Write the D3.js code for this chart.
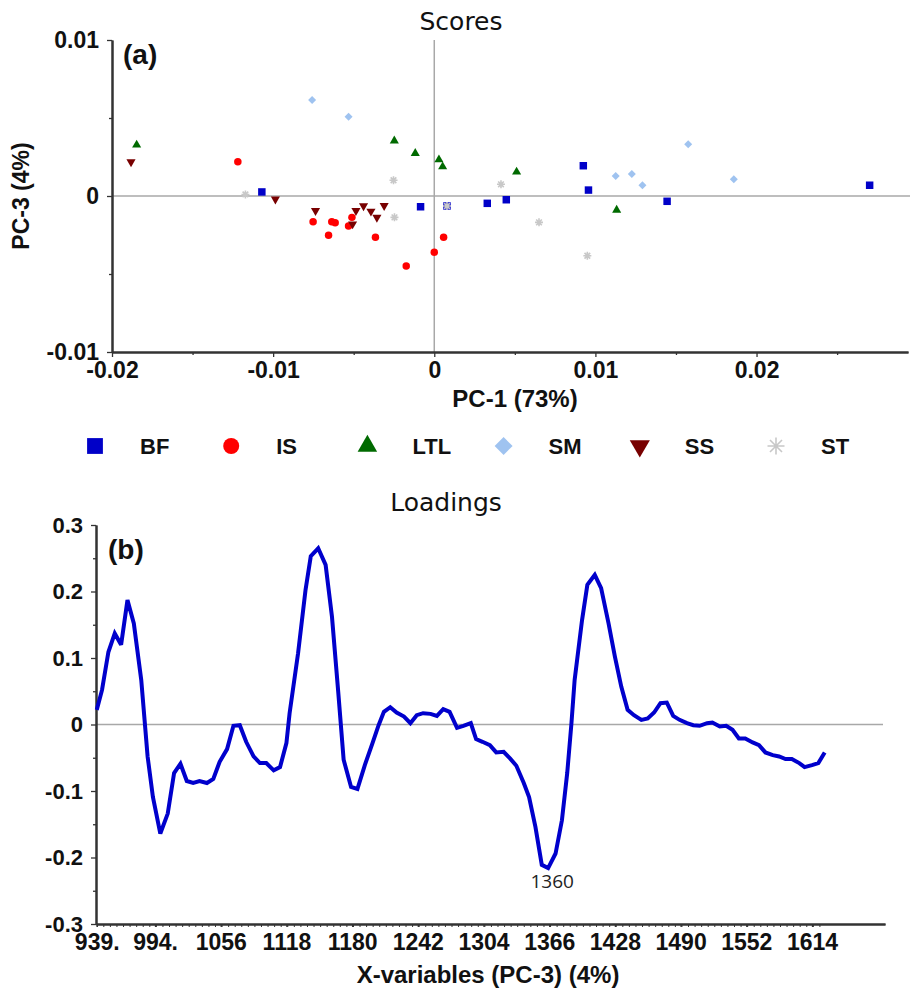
<!DOCTYPE html>
<html>
<head>
<meta charset="utf-8">
<script src="https://cdn.jsdelivr.net/npm/d3@7"></script>
<style>
body{margin:0;background:#fff;}
svg{display:block;}
</style>
</head>
<body>
<div id="chart"></div>
<script>
// scores: [PC-1, PC-3] for each group
var bfScores = [[-0.0107,0.00026],[-0.00085,-0.00069],[0.00079,-0.00064],[0.00329,-0.00047],[0.00447,-0.00024],
                [0.00925,0.00194],[0.00957,0.00038],[0.01445,-0.00034],[0.02702,0.00069]];
var isScores = [[-0.01219,0.0022],[-0.00752,-0.00165],[-0.00636,-0.00165],[-0.00615,-0.00171],[-0.00656,-0.00252],
                [-0.00511,-0.00137],[-0.00532,-0.00192],[-0.00365,-0.00265],[-0.00174,-0.00449],[0,-0.00361],[0.00058,-0.00265]];
var ltlScores = [[-0.01847,0.00327],[-0.00248,0.00354],[-0.00118,0.00274],[0.00029,0.00233],[0.00052,0.00188],
                 [0.00511,0.00154],[0.01132,-0.0009]];
var smScores = [[-0.00758,0.00615],[-0.00532,0.00508],[0.01126,0.00128],[0.01226,0.00141],[0.01292,0.00069],
                [0.01576,0.00331],[0.01859,0.00107]];
var ssScores = [[-0.01882,0.00218],[-0.00986,-0.0002],[-0.00737,-0.00094],[-0.00507,-0.0018],[-0.00486,-0.00094],
                [-0.00439,-0.00064],[-0.00393,-0.00098],[-0.00356,-0.00137],[-0.00311,-0.00062]];
var stScores = [[-0.01172,0.0001],[-0.00253,0.00101],[-0.00247,-0.00137],[0.00079,-0.00064],[0.00414,0.00075],
                [0.0065,-0.00169],[0.0095,-0.00383]];

var groupNames = ["BF","IS","LTL","SM","SS","ST"];
var groupColors = ["#0000c8","#ff0000","#006a00","#9fc3f0","#780000","#c8c8c8"];

var scoreXTicks = [-0.02,-0.01,0,0.01,0.02];
var scoreXMinor = [-0.015,-0.005,0.005,0.015,0.025];
var scoreYTicks = [-0.01,0,0.01];
var scoreYMinor = [-0.005,0.005];

// loadings PC-3
var wavenumbers = [939,944,950,956,962,968,974,981,987,992,999,1006,1012,1018,1024,1030,1036,1043,1049,1055,
                   1062,1068,1074,1080,1087,1093,1099,1106,1112,1118,1121,1129,1136,1141,1148,1155,1161,1167,1172,1179,
                   1185,1192,1199,1205,1210,1216,1222,1229,1235,1241,1247,1254,1260,1266,1272,1279,1285,1292,1297,1303,
                   1310,1316,1323,1329,1335,1342,1347,1353,1359,1365,1372,1378,1383,1387,1390,1397,1402,1409,1415,1422,
                   1428,1434,1440,1446,1453,1459,1465,1471,1477,1483,1489,1496,1502,1508,1515,1520,1527,1533,1539,1545,
                   1551,1558,1564,1570,1577,1583,1589,1595,1602,1607,1614,1620,1626];
var loadings = [0.022,0.052,0.109,0.137,0.120,0.187,0.152,0.067,-0.048,-0.109,-0.164,-0.134,-0.073,-0.059,-0.085,-0.088,-0.085,-0.088,-0.082,-0.056,
                -0.037,-0.002,-0.001,-0.026,-0.048,-0.058,-0.058,-0.069,-0.064,-0.028,0.017,0.107,0.202,0.253,0.265,0.240,0.162,0.047,-0.053,-0.094,
                -0.097,-0.061,-0.029,-0.001,0.019,0.026,0.018,0.012,0.002,0.014,0.017,0.016,0.013,0.023,0.019,-0.005,-0.002,0.002,-0.022,-0.026,
                -0.031,-0.042,-0.041,-0.051,-0.062,-0.088,-0.109,-0.154,-0.211,-0.216,-0.194,-0.144,-0.073,0.002,0.067,0.157,0.210,0.225,0.205,0.152,
                0.102,0.057,0.022,0.014,0.007,0.009,0.018,0.032,0.033,0.013,0.007,0.002,-0.001,-0.002,0.002,0.003,-0.003,-0.002,-0.008,-0.021,
                -0.021,-0.027,-0.031,-0.042,-0.046,-0.048,-0.052,-0.052,-0.058,-0.064,-0.061,-0.058,-0.042];

var loadXTicks = [939,994,1056,1118,1180,1242,1304,1366,1428,1490,1552,1614];
var loadXLabels = ["939.","994.","1056","1118","1180","1242","1304","1366","1428","1490","1552","1614"];
var loadYTicks = [-0.3,-0.2,-0.1,0,0.1,0.2,0.3];
var loadYLabels = ["-0.3","-0.2","-0.1","0","0.1","0.2","0.3"];
var loadYMinor = [-0.25,-0.15,-0.05,0.05,0.15,0.25];
var minLabel = "1360";

var boldFont = "'Liberation Sans', Arial, sans-serif";

function styleAxis(g, fs){
    g.select(".domain").attr("stroke","#333").attr("stroke-width",2);
    g.selectAll(".tick line").attr("stroke","#333").attr("stroke-width",1.3);
    g.selectAll(".tick text")
        .attr("fill","#111")
        .style("font-family",boldFont)
        .style("font-weight","bold")
        .style("font-size",fs+"px");
}

function init(){
    var w=910;
    var h=994;

    var svg=d3.select("#chart")
                .append("svg")
                .attr("width",w)
                .attr("height",h);

    svg.append("rect").attr("width",w).attr("height",h).attr("fill","#fff");

    // custom 8-point asterisk
    var star={draw:function(ctx,size){
        var r=Math.sqrt(size)/2;
        for(var k=0;k<4;k++){
            var a=k*Math.PI/4;
            ctx.moveTo(-r*Math.cos(a),-r*Math.sin(a));
            ctx.lineTo(r*Math.cos(a),r*Math.sin(a));
        }
    }};
    var shapes=[d3.symbolSquare,d3.symbolCircle,d3.symbolTriangle,d3.symbolSquare,d3.symbolTriangle,star];
    var rotations=[0,0,0,45,180,0];
    var markerSizes=[56,44,36,32,36,64];
    var legendSizes=[250,201,165,162,175,289];

    // ================= Scores =================
    var xScale=d3.scaleLinear().domain([-0.02,0.0294]).range([112,908]);
    var yScale=d3.scaleLinear().domain([-0.01,0.01]).range([352,40]);

    var top=svg.append("g");

    top.append("line")
        .attr("x1",xScale(-0.02)).attr("x2",910)
        .attr("y1",yScale(0)).attr("y2",yScale(0))
        .attr("stroke","#a8a8a8").attr("stroke-width",1.5);
    top.append("line")
        .attr("x1",xScale(0)).attr("x2",xScale(0))
        .attr("y1",yScale(0.01)).attr("y2",yScale(-0.01))
        .attr("stroke","#a8a8a8").attr("stroke-width",1.5);

    var gxm=top.append("g").attr("transform","translate(0,"+yScale(-0.01)+")")
        .call(d3.axisBottom(xScale).tickValues(scoreXMinor).tickFormat("").tickSize(3).tickSizeOuter(0));
    styleAxis(gxm,10);
    var gx=top.append("g").attr("transform","translate(0,"+yScale(-0.01)+")")
        .call(d3.axisBottom(xScale).tickValues(scoreXTicks).tickFormat(d=>String(d)).tickSize(5).tickSizeOuter(0));
    styleAxis(gx,23);
    gx.selectAll(".tick text").attr("y",26).attr("dy",null);

    var gym=top.append("g").attr("transform","translate("+xScale(-0.02)+",0)")
        .call(d3.axisLeft(yScale).tickValues(scoreYMinor).tickFormat("").tickSize(3).tickSizeOuter(0));
    styleAxis(gym,10);
    var gy=top.append("g").attr("transform","translate("+xScale(-0.02)+",0)")
        .call(d3.axisLeft(yScale).tickValues(scoreYTicks).tickFormat(d=>String(d)).tickSize(5).tickSizeOuter(0));
    styleAxis(gy,23);
    gy.selectAll(".tick text").attr("x",-13);

    var allScores=[bfScores,isScores,ltlScores,smScores,ssScores,stScores];
    allScores.forEach((pts,i)=>{
        var sym=d3.symbol().type(shapes[i]).size(markerSizes[i]);
        top.append("g").selectAll("path")
            .data(pts)
            .enter()
            .append("path")
            .attr("d",sym)
            .attr("transform",d=>"translate("+xScale(d[0])+","+yScale(d[1])+") rotate("+rotations[i]+")")
            .attr("fill",i===5?"none":groupColors[i])
            .attr("stroke",i===5?groupColors[i]:"none")
            .attr("stroke-width",1.6);
    });

    top.append("text").attr("x",461).attr("y",30).attr("text-anchor","middle")
        .style("font-family","'DejaVu Sans', sans-serif").style("font-size","25px").attr("fill","#111")
        .text("Scores");
    top.append("text").attr("x",123).attr("y",64)
        .style("font-family",boldFont).style("font-weight","bold").style("font-size","28px").attr("fill","#111")
        .text("(a)");
    top.append("text").attr("x",515).attr("y",407).attr("text-anchor","middle")
        .style("font-family",boldFont).style("font-weight","bold").style("font-size","24px").attr("fill","#111")
        .text("PC-1 (73%)");
    top.append("text").attr("transform","translate(29,196) rotate(-90)").attr("text-anchor","middle")
        .style("font-family",boldFont).style("font-weight","bold").style("font-size","23px").attr("fill","#111")
        .text("PC-3 (4%)");

    // ================= Legend =================
    var legend=svg.append("g").attr("transform","translate(95,446)");
    groupNames.forEach((name,i)=>{
        var sym=d3.symbol().type(shapes[i]).size(legendSizes[i]);
        legend.append("path")
            .attr("d",sym)
            .attr("transform","translate("+(i*136.2)+",0) rotate("+rotations[i]+")")
            .attr("fill",i===5?"none":groupColors[i])
            .attr("stroke",i===5?groupColors[i]:"none")
            .attr("stroke-width",1.6);
        legend.append("text")
            .attr("x",i*136.2+45)
            .attr("y",8)
            .style("font-family",boldFont).style("font-weight","bold").style("font-size","22px").attr("fill","#111")
            .text(name);
    });

    // ================= Loadings =================
    var xL=d3.scaleLinear().domain([938.3,1682.9]).range([96,885]);
    var yL=d3.scaleLinear().domain([-0.3,0.3]).range([924,525]);

    var bot=svg.append("g");

    bot.append("line")
        .attr("x1",xL.range()[0]).attr("x2",883)
        .attr("y1",yL(0)).attr("y2",yL(0))
        .attr("stroke","#a8a8a8").attr("stroke-width",1.5);

    var lxm=bot.append("g").attr("transform","translate(0,"+yL(-0.3)+")")
        .call(d3.axisBottom(xL).tickValues(d3.range(939,1627,6.2)).tickFormat("").tickSize(3).tickSizeOuter(0));
    styleAxis(lxm,10);
    lxm.selectAll(".tick line").attr("stroke-width",1);
    var lx=bot.append("g").attr("transform","translate(0,"+yL(-0.3)+")")
        .call(d3.axisBottom(xL).tickValues(loadXTicks).tickFormat((d,i)=>loadXLabels[i]).tickSize(3).tickSizeOuter(0));
    styleAxis(lx,23);
    lx.selectAll(".tick text").attr("y",26).attr("dy",null);

    var lym=bot.append("g").attr("transform","translate("+xL.range()[0]+",0)")
        .call(d3.axisLeft(yL).tickValues(loadYMinor).tickFormat("").tickSize(3).tickSizeOuter(0));
    styleAxis(lym,10);
    var ly=bot.append("g").attr("transform","translate("+xL.range()[0]+",0)")
        .call(d3.axisLeft(yL).tickValues(loadYTicks).tickFormat((d,i)=>loadYLabels[i]).tickSize(5).tickSizeOuter(0));
    styleAxis(ly,22);
    ly.selectAll(".tick text").attr("x",-13);

    var lineData=wavenumbers.map((wn,i)=>[wn,loadings[i]]);
    var line=d3.line().x(d=>xL(d[0])).y(d=>yL(d[1]));
    bot.append("path")
        .datum(lineData)
        .attr("d",line)
        .attr("fill","none")
        .attr("stroke","#0000cc")
        .attr("stroke-width",4)
        .attr("stroke-linejoin","miter")
        .attr("stroke-miterlimit",3);

    var minIdx=d3.minIndex(loadings);
    bot.append("text")
        .attr("x",xL(wavenumbers[minIdx])+4)
        .attr("y",yL(loadings[minIdx])+20)
        .attr("text-anchor","middle")
        .style("font-family","'Open Sans', sans-serif").style("font-size","19px").attr("fill","#222")
        .text(minLabel);

    bot.append("text").attr("x",446).attr("y",511).attr("text-anchor","middle")
        .style("font-family","'DejaVu Sans', sans-serif").style("font-size","25px").attr("fill","#111")
        .text("Loadings");
    bot.append("text").attr("x",108).attr("y",559)
        .style("font-family",boldFont).style("font-weight","bold").style("font-size","28px").attr("fill","#111")
        .text("(b)");
    bot.append("text").attr("x",488).attr("y",983).attr("text-anchor","middle")
        .style("font-family",boldFont).style("font-weight","bold").style("font-size","24px").attr("fill","#111")
        .text("X-variables (PC-3) (4%)");
}

init();
</script>
</body>
</html>
